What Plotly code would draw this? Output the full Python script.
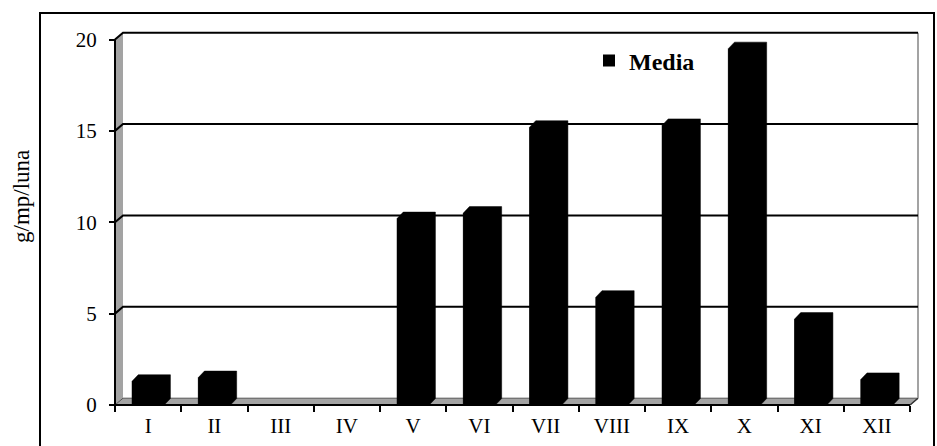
import plotly.graph_objects as go

# Monthly mean values (g/mp/luna)
months = ["I", "II", "III", "IV", "V", "VI", "VII", "VIII", "IX", "X", "XI", "XII"]
media = [1.3, 1.5, 0, 0, 10.2, 10.5, 15.2, 5.9, 15.3, 19.5, 4.7, 1.4]
y_ticks = [0, 5, 10, 15, 20]

W, H = 937, 446
FONT = "Times New Roman, Liberation Serif, serif"

# Pixel geometry of the front plane
X_LEFT_PX, CAT_PX = 115.0, 66.25      # left edge of category I, width of one category
Y_ZERO_PX, UNIT_PX = 405.0, 18.275    # y pixel of value 0, pixels per unit

# 3D depth offsets (in data units)
DX = 8 / CAT_PX          # wall / floor depth, horizontal
DY = 6.8 / UNIT_PX       # wall / floor depth, vertical
BAR_DX = 6.2 / CAT_PX    # bar depth, horizontal
BAR_DY = 6.5 / UNIT_PX   # bar depth, vertical
BAR_W = 0.486

# Plot area slightly larger than the drawing so edge lines are not clipped
DOM_L, DOM_R, DOM_T, DOM_B = 105, 928, 24, 418
x_rng = [-0.5 + (DOM_L - X_LEFT_PX) / CAT_PX, -0.5 + (DOM_R - X_LEFT_PX) / CAT_PX]
y_rng = [(Y_ZERO_PX - DOM_B) / UNIT_PX, (Y_ZERO_PX - DOM_T) / UNIT_PX]

n = len(months)
pos = list(range(n))
x0, x1 = -0.5, n - 0.5
ymax = y_ticks[-1]

GRAY = "#a3a3a3"
shapes = []

# side wall
shapes.append(dict(type="path", xref="x", yref="y", layer="below",
                   path=f"M{x0},0 L{x0},{ymax} L{x0+DX},{ymax+DY} L{x0+DX},{DY} Z",
                   fillcolor=GRAY, line=dict(width=0)))
# floor
shapes.append(dict(type="path", xref="x", yref="y", layer="below",
                   path=f"M{x0},0 L{x1},0 L{x1+DX},{DY} L{x0+DX},{DY} Z",
                   fillcolor=GRAY, line=dict(color="#555555", width=1)))
# back wall right edge
shapes.append(dict(type="line", xref="x", yref="y", layer="below",
                   x0=x1 + DX, x1=x1 + DX, y0=DY, y1=ymax + DY,
                   line=dict(color=GRAY, width=2)))
# gridlines across side wall and back wall
for g in y_ticks[1:]:
    shapes.append(dict(type="path", xref="x", yref="y", layer="below",
                       path=f"M{x0},{g} L{x0+DX},{g+DY} L{x1+DX},{g+DY}",
                       line=dict(color="black", width=2)))

# front axis lines
shapes.append(dict(type="line", xref="x", yref="y", layer="above",
                   x0=x0, x1=x0, y0=0, y1=ymax, line=dict(color="black", width=2)))
shapes.append(dict(type="line", xref="x", yref="y", layer="above",
                   x0=x0, x1=x1, y0=0, y1=0, line=dict(color="black", width=2)))
shapes.append(dict(type="line", xref="x", yref="y", layer="above",
                   x0=x1, x1=x1 + DX, y0=0, y1=DY, line=dict(color="#333333", width=1.5)))

# outer frame
shapes.append(dict(type="rect", xref="paper", yref="paper",
                   x0=40 / W, x1=934 / W, y0=-0.01, y1=1 - 13 / H,
                   line=dict(color="black", width=2), fillcolor="rgba(0,0,0,0)"))

fig = go.Figure()

# front faces of the columns
fig.add_trace(go.Bar(x=pos, y=media, width=BAR_W, name="Media",
                     marker=dict(color="black", line=dict(width=0)),
                     showlegend=True))

# full column silhouettes (front, top and side faces)
px_, py_ = [], []
for p, v in zip(pos, media):
    if v <= 0:
        continue
    a, b = p - BAR_W / 2, p + BAR_W / 2
    px_ += [a, a, a + BAR_DX, b + BAR_DX, b + BAR_DX, b, a, None]
    py_ += [0, v, v + BAR_DY, v + BAR_DY, BAR_DY, 0, 0, None]
fig.add_trace(go.Scatter(x=px_, y=py_, mode="lines", fill="toself",
                         fillcolor="black", line=dict(color="black", width=0.5),
                         showlegend=False, hoverinfo="skip"))

fig.update_layout(
    width=W, height=H,
    margin=dict(l=0, r=0, t=0, b=0),
    paper_bgcolor="white", plot_bgcolor="rgba(0,0,0,0)",
    font=dict(family=FONT, color="black", size=21),
    shapes=shapes,
    showlegend=True,
    legend=dict(x=589 / W, xanchor="left", y=1 - 61 / H, yanchor="middle",
                bgcolor="rgba(0,0,0,0)",
                font=dict(family=FONT, size=24, color="black", weight="bold")),
    xaxis=dict(domain=[DOM_L / W, DOM_R / W], range=x_rng,
               anchor="free", position=1 - Y_ZERO_PX / H,
               tickmode="array", tickvals=pos, ticktext=months,
               ticks="", showgrid=False, zeroline=False, showline=False,
               ticklabelstandoff=6,
               tickfont=dict(family=FONT, size=21),
               minor=dict(tickmode="array", tickvals=[p - 0.5 for p in pos] + [n - 0.5],
                          ticks="outside", ticklen=6, tickwidth=1.5, tickcolor="black",
                          showgrid=False)),
    yaxis=dict(domain=[1 - DOM_B / H, 1 - DOM_T / H], range=y_rng,
               anchor="free", position=X_LEFT_PX / W,
               tickmode="array", tickvals=y_ticks,
               ticks="outside", ticklen=6, tickwidth=1.5, tickcolor="black",
               ticklabelstandoff=8,
               showgrid=False, zeroline=False, showline=False,
               tickfont=dict(family=FONT, size=21)),
    annotations=[dict(text="g/mp/luna", xref="paper", yref="paper",
                      x=21 / W, y=1 - 197 / H, xanchor="center", yanchor="middle",
                      textangle=-90, showarrow=False,
                      font=dict(family=FONT, size=23, color="black"))],
)

fig.write_html("out.html")
